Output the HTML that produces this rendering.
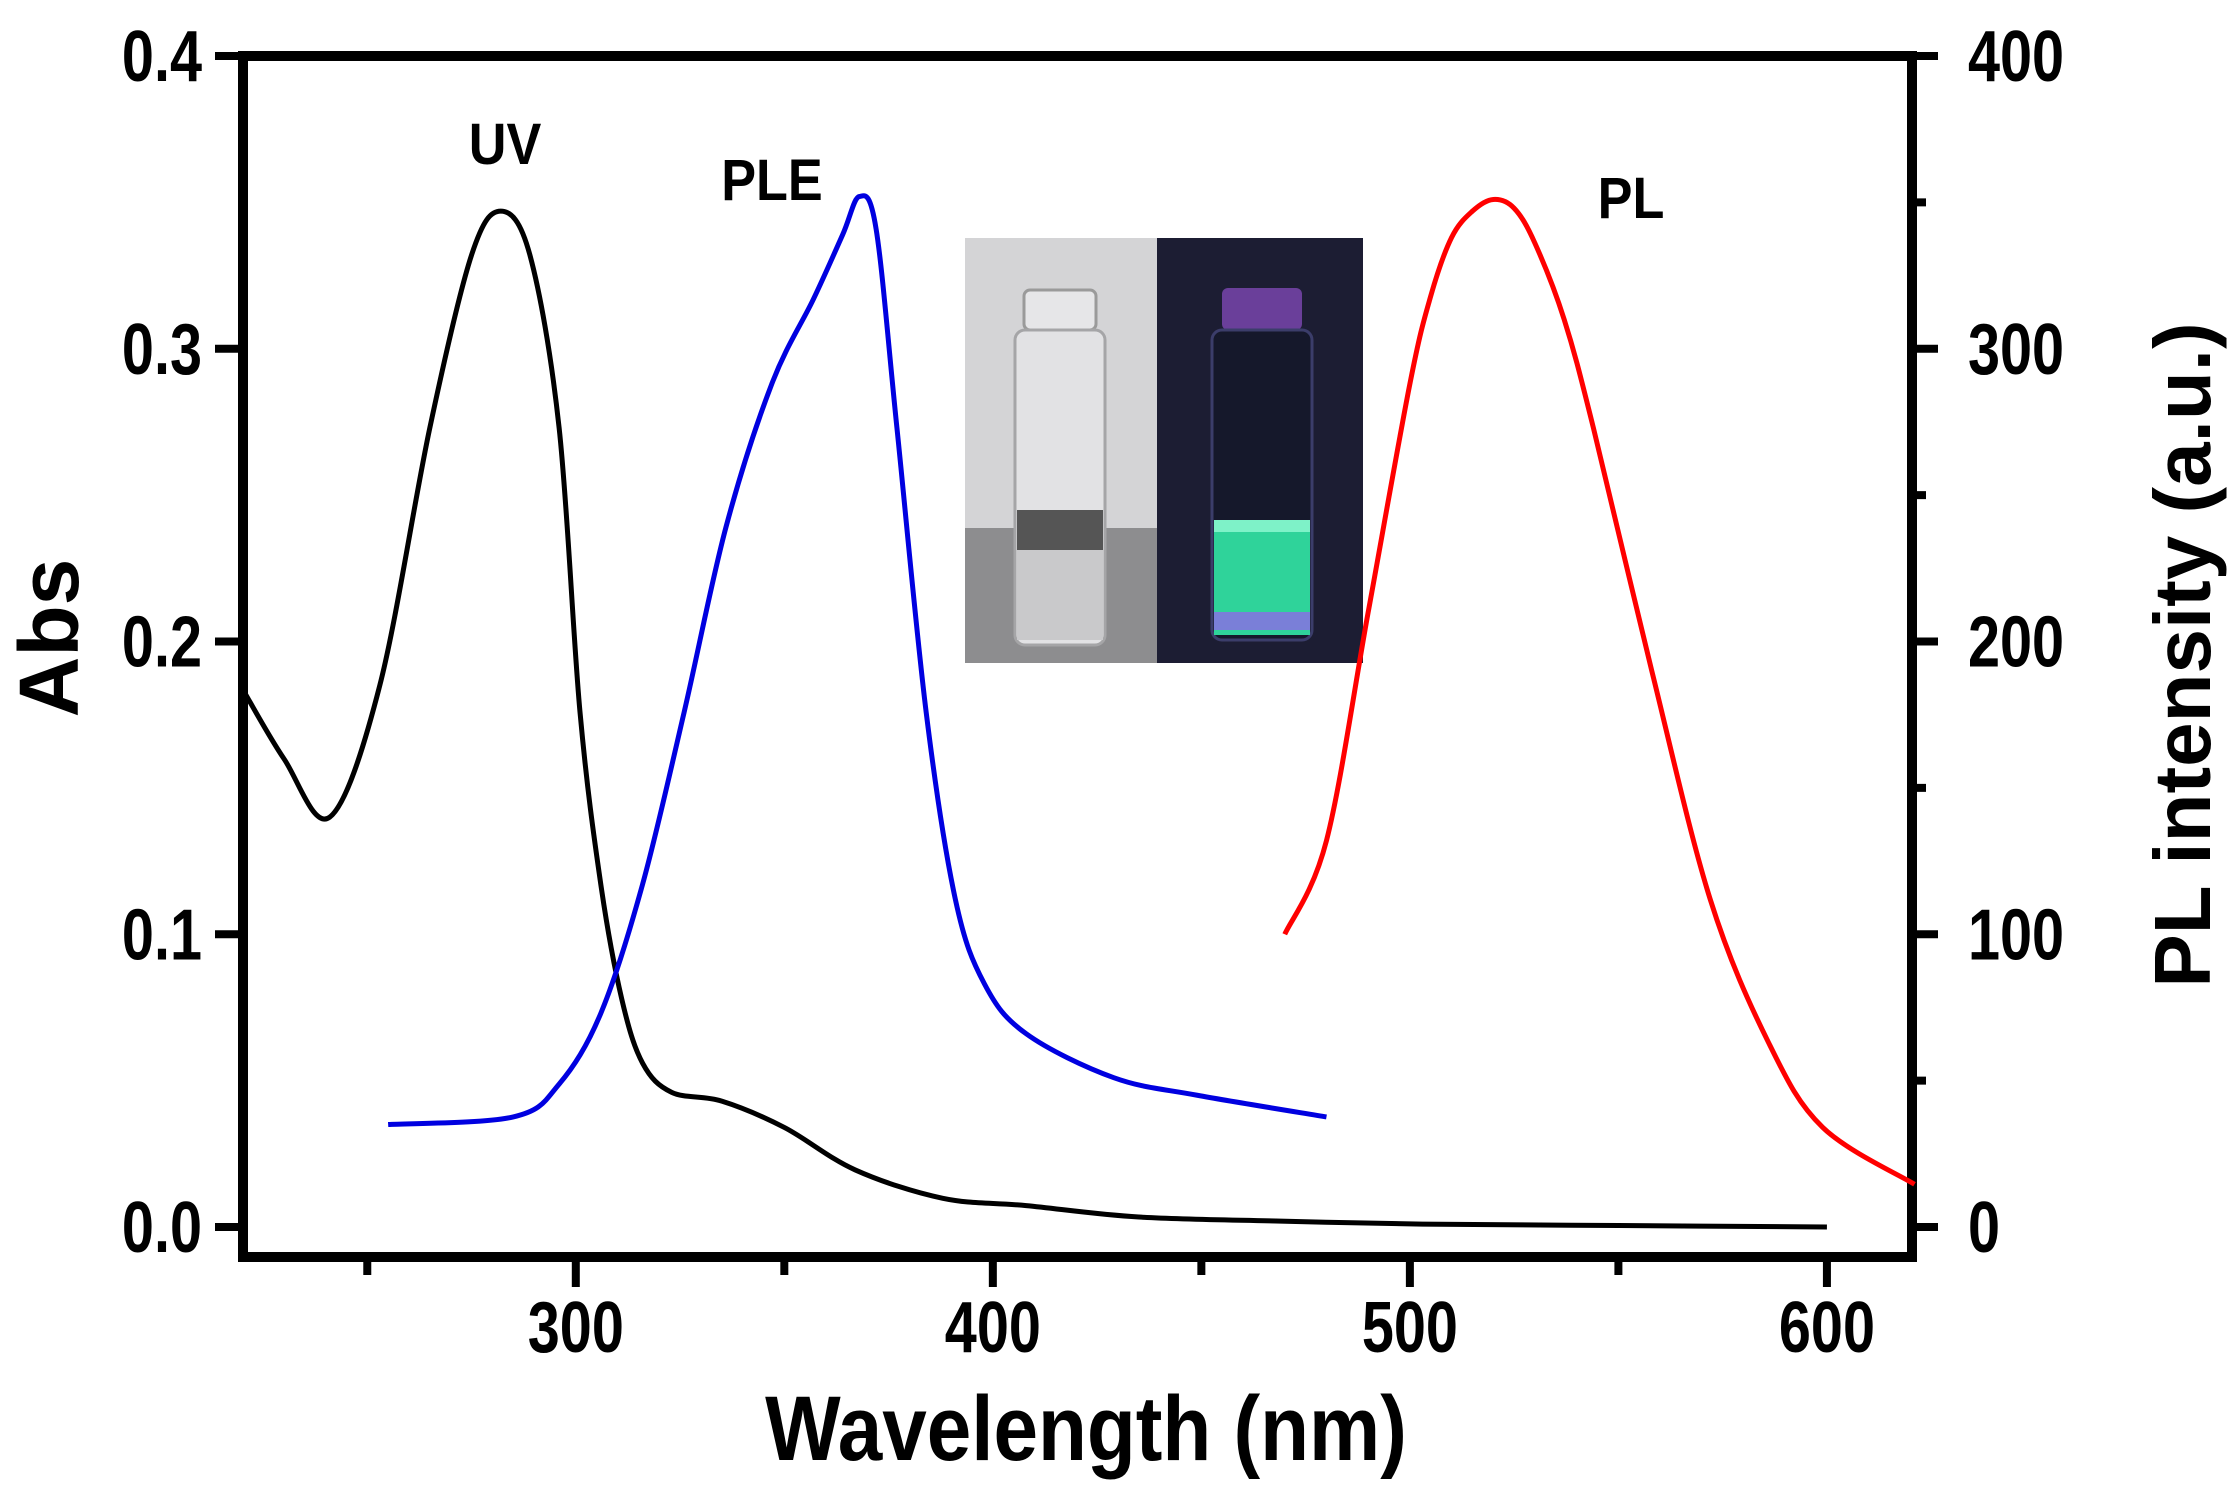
<!DOCTYPE html>
<html><head><meta charset="utf-8"><style>
html,body{margin:0;padding:0;background:#fff;}
svg{display:block;font-family:"Liberation Sans",sans-serif;}
</style></head><body>
<svg id="chart" width="2232" height="1485" viewBox="0 0 2232 1485" xmlns="http://www.w3.org/2000/svg">
<rect width="2232" height="1485" fill="#fff"/>
<g id="inset">
  <rect x="965" y="238" width="192" height="425" fill="#d4d4d6"/>
  <rect x="965" y="528" width="192" height="135" fill="#8d8d8f"/>
  <rect x="1024" y="290" width="72" height="40" rx="6" fill="#e6e6e8" stroke="#9a9a9a" stroke-width="3"/>
  <rect x="1015" y="330" width="90" height="315" rx="10" fill="#e2e2e4" stroke="#a5a5a7" stroke-width="3"/>
  <rect x="1017" y="510" width="86" height="40" fill="#555"/>
  <rect x="1017" y="550" width="86" height="90" fill="#c9c9cb"/>
  <rect x="1157" y="238" width="206" height="425" fill="#1c1d33"/>
  <rect x="1222" y="288" width="80" height="42" rx="6" fill="#6a3f9a"/>
  <rect x="1212" y="330" width="100" height="310" rx="10" fill="#15182b" stroke="#3b3d6a" stroke-width="3"/>
  <rect x="1214" y="520" width="96" height="115" fill="#2fd39a"/>
  <rect x="1214" y="520" width="96" height="12" fill="#7ef2c8"/>
  <rect x="1214" y="612" width="96" height="18" fill="#7a7fd8"/>
</g>
<g id="axes"></g>
<g id="series"></g>
<text transform="translate(505,164) scale(0.9,1)" font-size="58" font-weight="bold" text-anchor="middle">UV</text>
<text transform="translate(772,200) scale(0.9,1)" font-size="58" font-weight="bold" text-anchor="middle">PLE</text>
<text transform="translate(1631,218) scale(0.9,1)" font-size="58" font-weight="bold" text-anchor="middle">PL</text>
<text transform="translate(1086,1460) scale(0.87,1)" font-size="92" font-weight="bold" text-anchor="middle">Wavelength (nm)</text>
<text transform="translate(78,638) rotate(-90)" font-size="84" font-weight="bold" text-anchor="middle">Abs</text>
<text transform="translate(2210,655) rotate(-90)" font-size="80" font-weight="bold" text-anchor="middle">PL intensity (a.u.)</text>
</svg>
<script>
const xTicks=[300,400,500,600];
const xMinor=[250,350,450,550];
const absTicks=[0.0,0.1,0.2,0.3,0.4];
const absTickLabels=["0.0","0.1","0.2","0.3","0.4"];
const plTicks=[0,100,200,300,400];
const plMinor=[50,150,250,350];
const uvX=[220,230,241,253,265,275,282,289,296,301,306,311,316,323,335,350,367,388,408,435,469,503,550,600];
const uvY=[0.184,0.160,0.140,0.185,0.273,0.332,0.347,0.332,0.273,0.176,0.117,0.078,0.056,0.046,0.043,0.034,0.0195,0.0098,0.0073,0.0034,0.002,0.001,0.0005,0.0];
const pleX=[255,285,296,306,316,326,336,347,357,364,368,372,377,384,391,398,408,429,449,480];
const pleY=[35,37.6,48.8,73,117,176,239,288,317,339,352,341,273,176,112,83,66,51,45,37.6];
const plX=[470,480,490,500,505,510,515,520,525,530,537,544,558,572,586,599,621];
const plY=[100,132,210,288,318,338,347,351,348,336,310,273,190,112,63,34,14.6];

const L=243,R=1912,T=56,B=1257;
const X0=220.2,X1=620.4;
const xs=v=>L+(v-X0)*(R-L)/(X1-X0);
const y0px=1227,perAbs=2927.5;
const ya=v=>y0px-v*perAbs;
const yp=v=>y0px-v*(perAbs*0.001);
const NS="http://www.w3.org/2000/svg";
function mk(tag,attrs,parent){const e=document.createElementNS(NS,tag);for(const k in attrs)e.setAttribute(k,attrs[k]);parent.appendChild(e);return e;}
const axes=document.getElementById('axes');
const frame=mk('rect',{x:L,y:T,width:R-L,height:B-T,fill:'none',stroke:'#000','stroke-width':10},axes);


xTicks.forEach(v=>{
  const t=mk('line',{x1:xs(v),x2:xs(v),y1:B,y2:B+30,stroke:'#000','stroke-width':8},axes);
  
  
  const s=mk('text',{transform:`translate(${xs(v)},1352) scale(0.8,1)`,'font-size':72,'font-weight':'bold','text-anchor':'middle'},axes);
  s.textContent=String(v);
  
  
});
xMinor.forEach(v=>{
  const t=mk('line',{x1:xs(v),x2:xs(v),y1:B,y2:B+18,stroke:'#000','stroke-width':8},axes);
  
  
});
absTicks.forEach((v,i)=>{
  const t=mk('line',{x1:L-28,x2:L,y1:ya(v),y2:ya(v),stroke:'#000','stroke-width':8},axes);
  
  
  const s=mk('text',{transform:`translate(202,${ya(v)+25}) scale(0.8,1)`,'font-size':72,'font-weight':'bold','text-anchor':'end'},axes);
  s.textContent=absTickLabels[i];
  
  
});
plTicks.forEach(v=>{
  const t=mk('line',{x1:R,x2:R+26,y1:yp(v),y2:yp(v),stroke:'#000','stroke-width':8},axes);
  
  
  const s=mk('text',{transform:`translate(1968,${yp(v)+25}) scale(0.8,1)`,'font-size':72,'font-weight':'bold','text-anchor':'start'},axes);
  s.textContent=String(v);
  
  
});
plMinor.forEach(v=>{
  const t=mk('line',{x1:R,x2:R+14,y1:yp(v),y2:yp(v),stroke:'#000','stroke-width':8},axes);
  
  
});
function smooth(pts){
  let d=`M${pts[0][0]},${pts[0][1]}`;
  for(let i=0;i<pts.length-1;i++){
    const p0=pts[i-1]||pts[i],p1=pts[i],p2=pts[i+1],p3=pts[i+2]||p2;
    const c1=[p1[0]+(p2[0]-p0[0])/6,p1[1]+(p2[1]-p0[1])/6];
    const c2=[p2[0]-(p3[0]-p1[0])/6,p2[1]-(p3[1]-p1[1])/6];
    d+=` C${c1[0]},${c1[1]} ${c2[0]},${c2[1]} ${p2[0]},${p2[1]}`;
  }
  return d;
}
const ser=document.getElementById('series');
const uv=mk('path',{d:smooth(uvX.map((x,i)=>[xs(x),ya(uvY[i])])),fill:'none',stroke:'#000','stroke-width':5,'stroke-linejoin':'round'},ser);


const ple=mk('path',{d:smooth(pleX.map((x,i)=>[xs(x),yp(pleY[i])])),fill:'none',stroke:'#0000e0','stroke-width':5,'stroke-linejoin':'round'},ser);


const pl=mk('path',{d:smooth(plX.map((x,i)=>[xs(x),yp(plY[i])])),fill:'none',stroke:'#ff0000','stroke-width':5,'stroke-linejoin':'round'},ser);


</script>
</body></html>
